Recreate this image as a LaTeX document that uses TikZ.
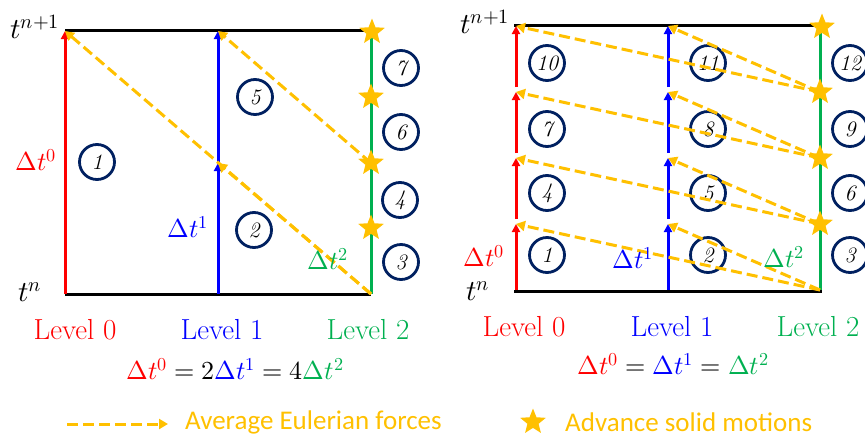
\documentclass[tikz,border=0pt]{standalone}
\usepackage{fontspec}
\usepackage{unicode-math}
\setmathfont{Latin Modern Math}
\newfontfamily\legfont{Carlito}
\usetikzlibrary{arrows.meta,shapes.geometric}
\definecolor{cred}{RGB}{255,0,0}
\definecolor{cblue}{RGB}{0,0,255}
\definecolor{cgreen}{RGB}{0,176,80}
\definecolor{cgold}{RGB}{255,192,0}
\definecolor{cnavy}{RGB}{0,32,96}
\begin{document}
\begin{tikzpicture}[x=1pt,y=-1pt,
  axisline/.style={line width=3pt,black},
  lvl/.style={line width=3pt,-{Triangle[length=8pt,width=8pt]}},
  gline/.style={line width=3pt,cgreen},
  force/.style={draw=cgold,line width=3pt,dash pattern=on 11pt off 5pt,-{Triangle[length=9pt,width=10pt]}},
  num/.style={circle,draw=cnavy,line width=2.8pt,minimum size=35pt,inner sep=0pt,font=\rmfamily\fontsize{22}{22}\selectfont\itshape},
  sstar/.style={star,star points=5,star point ratio=2.3,fill=cgold,minimum size=27pt,inner sep=0pt},
  lab/.style={font=\rmfamily\fontsize{29}{29}\selectfont},
  mlab/.style={font=\fontsize{26}{26}\selectfont},
  tlab/.style={font=\fontsize{29}{29}\selectfont},
  leg/.style={font=\legfont\fontsize{27}{27}\selectfont,text=cgold,anchor=west,inner sep=0pt},
]
\useasboundingbox (0,0) rectangle (865,437);

% ---------------- left panel ----------------
\coordinate (LTl) at (65,30);  \coordinate (LTr) at (368,30);
\coordinate (LBl) at (65,294); \coordinate (LBr) at (371,294);
\coordinate (L0b) at (65,294); \coordinate (L0t) at (65,31);
\coordinate (L1b) at (218,294); \coordinate (L1m) at (218,163); \coordinate (L1t) at (218,31);
\coordinate (L2b) at (371,294); \coordinate (L2a) at (371,228); \coordinate (L2m) at (371,163);
\coordinate (L2c) at (371,97); \coordinate (L2t) at (371,31);

\draw[axisline] (LTl) -- (LTr);
\draw[axisline] (LBl) -- (LBr);

\node[num] (c1) at (97,162) {1};
\node[num] (c5) at (255,97) {5};
\node[num] (c2) at (254,230) {2};
\node[num] (c7) at (401,68) {7};
\node[num] (c6) at (401,132) {6};
\node[num] (c4) at (400,200) {4};
\node[num] (c3) at (401,262) {3};

\draw[lvl,cred] (L0b) -- (L0t);
\draw[lvl,cblue] (L1b) -- (L1m);
\draw[lvl,cblue] (L1m) -- (L1t);
\draw[gline] (L2b) -- (L2t);

\draw[force] (L2b) -- (L0t);
\draw[force] (L2b) -- (L1m);
\draw[force] (L2m) -- (L1t);

\node[sstar] (s1) at (L2a) {};
\node[sstar] (s2) at (L2m) {};
\node[sstar] (s3) at (L2c) {};
\node[sstar] (s4) at (372,32) {};

\node[tlab] (tn1L) at (35,27) {$t^{n+1}$};
\node[tlab] (tnL) at (30,292) {$t^{n}$};
\node[mlab,text=cred] (dt0L) at (36,160) {$\Delta t^{0}$};
\node[mlab,text=cblue] (dt1L) at (188,227) {$\Delta t^{1}$};
\node[mlab,text=cgreen] (dt2L) at (328,259) {$\Delta t^{2}$};

\node[lab,text=cred] (lv0L) at (75,330) {Level 0};
\node[lab,text=cblue] (lv1L) at (222,330) {Level 1};
\node[lab,text=cgreen] (lv2L) at (368,330) {Level 2};
\node[mlab] (eqL) at (235,369) {${\color{cred}\Delta t^{0}} = 2{\color{cblue}\Delta t^{1}} = 4{\color{cgreen}\Delta t^{2}}$};

% ---------------- right panel ----------------
\coordinate (RTl) at (514,25);  \coordinate (RTr) at (816,25);
\coordinate (RBl) at (514,291); \coordinate (RBr) at (822,291);
\foreach \i/\y in {0/290,1/224,2/158,3/92,4/26}{
  \coordinate (R\i) at (516,\y);
  \coordinate (B\i) at (668,\y);
  \coordinate (G\i) at (820,\y);
}
\draw[axisline] (RTl) -- (RTr);
\draw[axisline] (RBl) -- (RBr);

\foreach \n/\x/\y in {1/547/255,2/708/255,3/850/255,
                      4/547/193,5/708/193,6/850/193,
                      7/547/129,8/708/129,9/850/129,
                      10/547/63,11/708/63,12/850/63}{
  \node[num] (r\n) at (\x,\y) {\n};
}

\draw[lvl,cred] (R0) -- (R1);
\draw[lvl,cred,shorten <=5pt] (R1) -- (R2);
\draw[lvl,cred,shorten <=5pt] (R2) -- (R3);
\draw[lvl,cred,shorten <=5pt] (R3) -- (R4);
\draw[lvl,cblue] (B0) -- (B1);
\draw[lvl,cblue,shorten <=5pt] (B1) -- (B2);
\draw[lvl,cblue,shorten <=5pt] (B2) -- (B3);
\draw[lvl,cblue,shorten <=5pt] (B3) -- (B4);
\draw[gline] (G0) -- (G4);

\draw[force] (G0) -- (R1);
\draw[force] (G0) -- (B1);
\draw[force] (G1) -- (R2);
\draw[force] (G1) -- (B2);
\draw[force] (G2) -- (R3);
\draw[force] (G2) -- (B3);
\draw[force] (G3) -- (R4);
\draw[force] (G3) -- (B4);

\node[sstar] (rs1) at (G1) {};
\node[sstar] (rs2) at (G2) {};
\node[sstar] (rs3) at (G3) {};
\node[sstar] (rs4) at (822,27) {};

\node[tlab] (tn1R) at (485,22) {$t^{n+1}$};
\node[tlab] (tnR) at (478,291) {$t^{n}$};
\node[mlab,text=cred] (dt0R) at (484,256) {$\Delta t^{0}$};
\node[mlab,text=cblue] (dt1R) at (633,258) {$\Delta t^{1}$};
\node[mlab,text=cgreen] (dt2R) at (784,257) {$\Delta t^{2}$};

\node[lab,text=cred] (lv0R) at (524,327) {Level 0};
\node[lab,text=cblue] (lv1R) at (672,327) {Level 1};
\node[lab,text=cgreen] (lv2R) at (818,327) {Level 2};
\node[mlab] (eqR) at (673,364) {${\color{cred}\Delta t^{0}} = {\color{cblue}\Delta t^{1}} = {\color{cgreen}\Delta t^{2}}$};

% ---------------- legend ----------------
\coordinate (la) at (67,424); \coordinate (lb) at (168,424);
\draw[force] (la) -- (lb);
\node[leg] (legA) at (185,422) {Average Eulerian forces};
\node[sstar] (legS) at (533,422) {};
\node[leg] (legB) at (565,422) {Advance solid motions};
\end{tikzpicture}
\end{document}
